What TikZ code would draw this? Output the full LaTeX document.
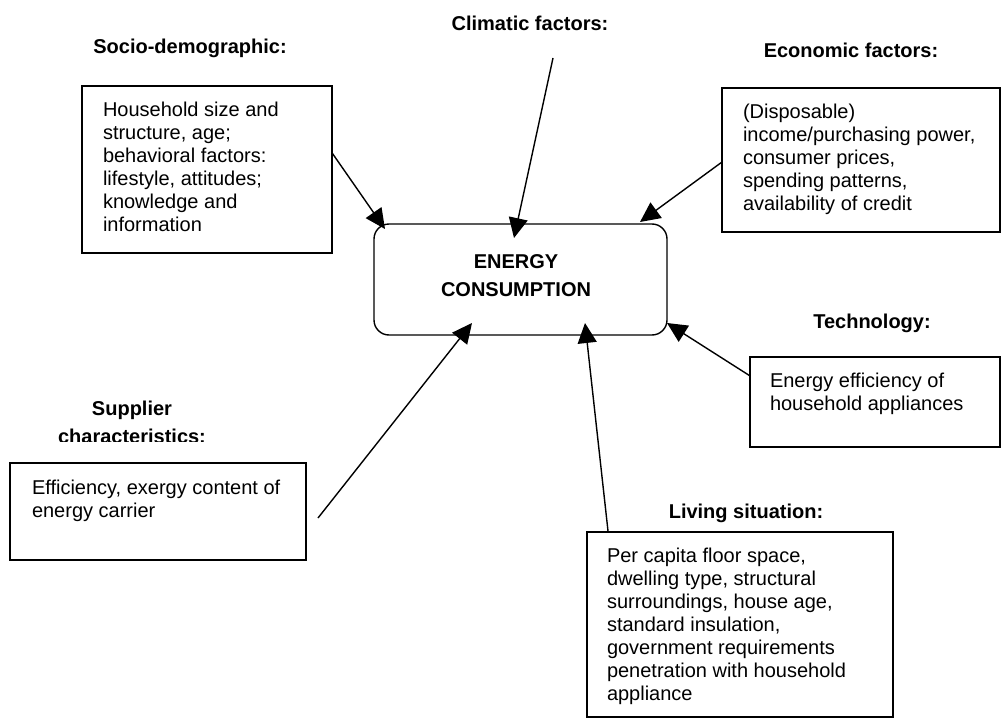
\documentclass[tikz,border=0pt]{standalone}
\usepackage{fontspec}
\setmainfont{Liberation Sans}
\usetikzlibrary{calc,arrows.meta}
\tikzset{
  box/.style={draw=black, line width=1.4pt, rectangle, inner sep=0pt, outer sep=0pt, anchor=north west},
  txt/.style={inner sep=0pt, outer sep=0pt, anchor=north west, align=left, font=\fontsize{20}{23}\selectfont},
  lbl/.style={inner sep=0pt, outer sep=0pt, align=center, font=\fontsize{20}{28.5}\selectfont\bfseries},
  arr/.style={line width=1.4pt, -{Triangle[length=20pt,width=19pt]}},
}
\begin{document}
\begin{tikzpicture}[x=1pt,y=-1pt]
\useasboundingbox[fill=white] (0,0) rectangle (1002,720);
% central box
\node[draw=black, line width=1.4pt, rounded corners=15pt, minimum width=293pt, minimum height=111pt, inner sep=0pt, outer sep=0pt] (energy) at (520.5,279.5) {};
\node[lbl, font=\fontsize{20}{28}\selectfont\bfseries] (energyT) at (516,276) {ENERGY\\CONSUMPTION};
% boxes
\node[box, minimum width=250pt, minimum height=167pt] (socio) at (82,86) {};
\node[box, minimum width=278pt, minimum height=144pt] (econ) at (722,88) {};
\node[box, minimum width=250pt, minimum height=90pt] (tech) at (750,357) {};
\node[box, minimum width=306pt, minimum height=185pt] (living) at (587,532) {};
\node[box, minimum width=296pt, minimum height=97pt] (supp) at (10,463) {};
% box texts
\node[txt] (socioT) at (103,102) {Household size and\\structure, age;\\behavioral factors:\\lifestyle, attitudes;\\knowledge and\\information};
\node[txt] (econT) at (743,104) {(Disposable)\\income/purchasing power,\\consumer prices,\\spending patterns,\\availability of credit};
\node[txt] (techT) at (770,373) {Energy efficiency of\\household appliances};
\node[txt] (livingT) at (607,548) {Per capita floor space,\\dwelling type, structural\\surroundings, house age,\\standard insulation,\\government requirements\\penetration with household\\appliance};
\node[txt] (suppT) at (32,480) {Efficiency, exergy content of\\energy carrier};
% labels
\node[lbl] (climL) at (530,23) {Climatic factors:};
\node[lbl] (socioL) at (190,48) {Socio-demographic:};
\node[lbl] (econL) at (851,50) {Economic factors:};
\node[lbl] (techL) at (872,323) {Technology:};
\node[lbl] (livingL) at (746,513) {Living situation:};
\begin{scope}
\clip (0,395) rectangle (300,441);
\node[lbl, anchor=center] (suppL) at (132,422.5) {Supplier\\characteristics:};
\end{scope}
% arrow ends
\coordinate (climStart) at (553,58);
\coordinate (suppStart) at (318,518);
\coordinate (tipSocio) at (385,229);
\coordinate (tipClim) at (514,238);
\coordinate (tipEcon) at (640,222);
\coordinate (tipTech) at (667,323);
\coordinate (tipLiving) at (585,323);
\coordinate (tipSupp) at (472,323);
% arrows
\draw[arr] ($(socio.north east)!0.40!(socio.south east)$) -- (tipSocio);
\draw[arr] (climStart) -- (tipClim);
\draw[arr] ($(econ.north west)!0.514!(econ.south west)$) -- (tipEcon);
\draw[arr] ($(tech.north west)!0.21!(tech.south west)$) -- (tipTech);
\draw[arr] ($(living.north west)!0.069!(living.north east)$) -- (tipLiving);
\draw[arr] (suppStart) -- (tipSupp);
\end{tikzpicture}
\end{document}
